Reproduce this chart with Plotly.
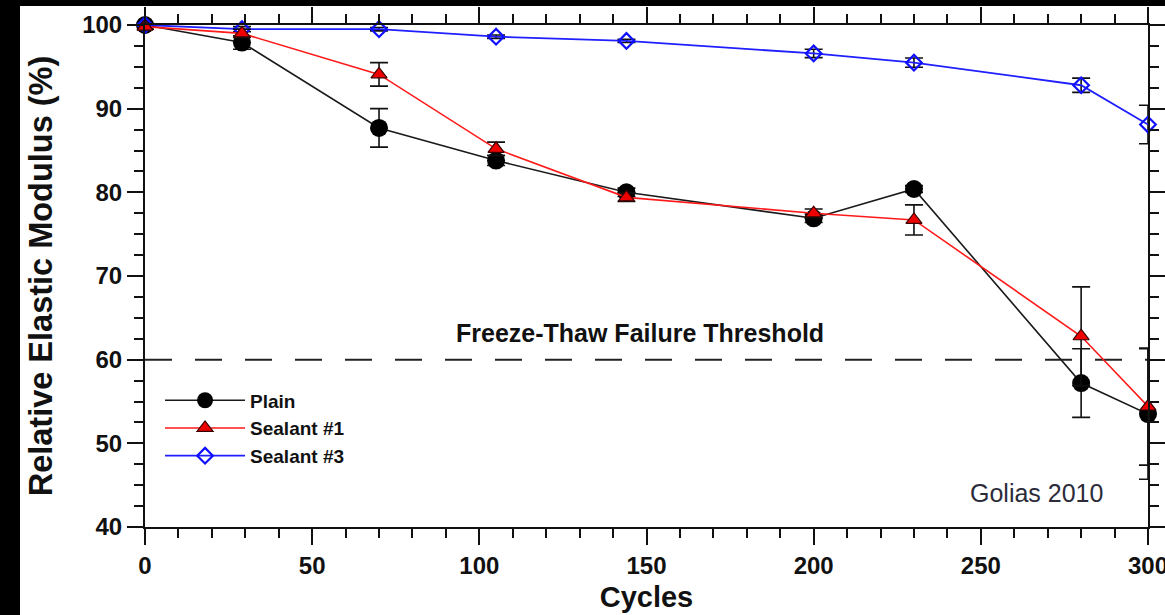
import plotly.graph_objects as go

# Freeze-thaw cycles at which the relative elastic modulus was measured
cycles = [0, 29, 70, 105, 144, 200, 230, 280, 300]

plain = [100.0, 97.9, 87.7, 83.8, 80.0, 76.9, 80.4, 57.2, 53.5]
plain_err = [0.3, 0.8, 2.3, 0.6, 0.5, 0.5, 0.4, 4.1, 7.8]

sealant1 = [99.8, 99.0, 94.1, 85.2, 79.4, 77.5, 76.7, 62.8, 54.4]
sealant1_err = [0.3, 0.5, 1.4, 0.8, 0.5, 0.5, 1.8, 5.9, 7.0]

sealant3 = [100.0, 99.5, 99.5, 98.6, 98.1, 96.6, 95.5, 92.8, 88.1]
sealant3_err = [0.2, 0.3, 0.2, 0.2, 0.2, 0.5, 0.55, 0.85, 2.3]

threshold = 60
x_ticks = [0, 50, 100, 150, 200, 250, 300]
y_ticks = [40, 50, 60, 70, 80, 90, 100]

FONT = "Liberation Sans, Arial, sans-serif"
W, H = 1165, 615
ML, MR, MT, MB = 145, 17, 25, 88
PW, PH = W - ML - MR, H - MT - MB


def err(vals):
    return dict(type="data", array=vals, visible=True, color="#111111",
                thickness=1.6, width=9)


fig = go.Figure()

fig.add_trace(go.Scatter(
    x=cycles, y=plain, name="Plain", mode="lines+markers", legendrank=1,
    line=dict(color="#1a1a1a", width=1.6),
    marker=dict(symbol="circle", size=18, color="#000000"),
    error_y=err(plain_err), cliponaxis=False,
))
fig.add_trace(go.Scatter(
    x=cycles, y=sealant3, name="Sealant #3", mode="lines+markers", legendrank=3,
    line=dict(color="#1f1fff", width=1.8),
    marker=dict(symbol="diamond-open", size=12, color="#1010ff",
                line=dict(width=2.2, color="#1010ff")),
    error_y=err(sealant3_err), cliponaxis=False,
))
fig.add_trace(go.Scatter(
    x=cycles, y=sealant1, name="Sealant #1", mode="lines+markers", legendrank=2,
    line=dict(color="#ff1a1a", width=1.6),
    marker=dict(symbol="triangle-up", size=14, color="#ee0000",
                line=dict(width=1.2, color="#3a0000")),
    error_y=err(sealant1_err), cliponaxis=False,
))

# failure threshold
fig.add_shape(type="line", xref="paper", x0=0, x1=1, yref="y", y0=threshold, y1=threshold,
              line=dict(color="#222222", width=2, dash="27px,23px"), layer="below")

fig.add_annotation(x=148, y=63.2, text="<b>Freeze-Thaw Failure Threshold</b>",
                   showarrow=False, font=dict(family=FONT, size=25, color="#111111"))
fig.add_annotation(x=266.5, y=44.1, text="Golias 2010", showarrow=False,
                   font=dict(family=FONT, size=25, color="#2b2b3a"))

# black frame strips along the left and top edges of the page
def px_x(p):
    return (p - ML) / PW


def px_y(q):
    return (H - MB - q) / PH


fig.add_shape(type="rect", xref="paper", yref="paper",
              x0=px_x(0), x1=px_x(20), y0=px_y(H), y1=px_y(0),
              fillcolor="#000000", line=dict(width=0), layer="above")
fig.add_shape(type="rect", xref="paper", yref="paper",
              x0=px_x(0), x1=px_x(W), y0=px_y(6), y1=px_y(0),
              fillcolor="#000000", line=dict(width=0), layer="above")

axis_common = dict(
    showline=True, linecolor="#111111", linewidth=2, mirror="allticks",
    ticks="outside", ticklen=16, tickwidth=2, tickcolor="#111111",
    showgrid=False, zeroline=False, automargin=False, ticklabeloverflow="allow",
    tickfont=dict(family=FONT, size=24, color="#111111", weight="bold"),
)

fig.update_xaxes(
    range=[0, 300], tickvals=x_ticks, ticktext=[str(v) for v in x_ticks],
    minor=dict(dtick=10, ticklen=9, tickwidth=2, tickcolor="#111111", ticks="outside"),
    title=dict(text="<b>Cycles</b>", standoff=9,
               font=dict(family=FONT, size=29, color="#111111")),
    **axis_common,
)
fig.update_yaxes(
    range=[40, 100], tickvals=y_ticks, ticktext=[str(v) for v in y_ticks],
    minor=dict(dtick=2.5, ticklen=9, tickwidth=2, tickcolor="#111111", ticks="outside"),
    title=dict(text="<b>Relative Elastic Modulus (%)</b>", standoff=20,
               font=dict(family=FONT, size=32.5, color="#111111")),
    **axis_common,
)

fig.update_layout(
    width=W, height=H,
    margin=dict(l=ML, r=MR, t=MT, b=MB, pad=0, autoexpand=False),
    paper_bgcolor="#ffffff", plot_bgcolor="#ffffff",
    showlegend=True,
    legend=dict(x=0.015, y=0.29, xanchor="left", yanchor="top",
                bgcolor="rgba(0,0,0,0)", borderwidth=0, itemwidth=80,
                font=dict(family=FONT, size=19, color="#111111", weight="bold"),
                tracegroupgap=0),
)

fig.write_html("out.html")
